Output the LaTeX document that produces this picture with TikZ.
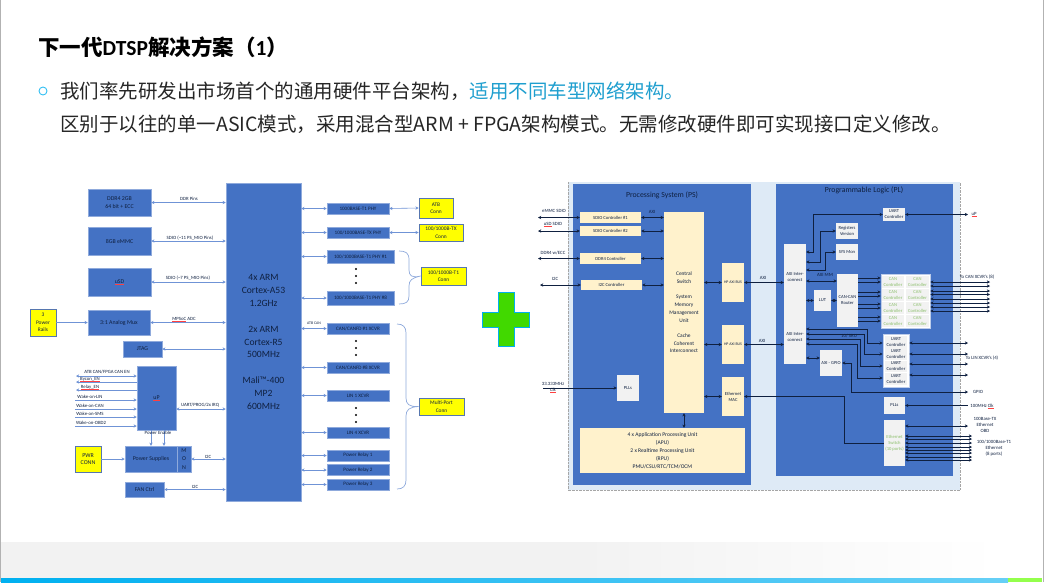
\documentclass[tikz,border=0pt]{standalone}
\usepackage{fontspec}
\setmainfont{Carlito}
\newfontfamily\cjk{Noto Sans CJK SC}
\usetikzlibrary{arrows.meta}
\definecolor{boxblue}{HTML}{4472C4}
\definecolor{edgeblue}{HTML}{8FAADC}
\definecolor{inkblue}{HTML}{0F2040}
\definecolor{linkblue}{HTML}{6F93D6}
\definecolor{signyellow}{HTML}{FFFF00}
\definecolor{cream}{HTML}{FFF2CC}
\definecolor{softgrey}{HTML}{F2F2F2}
\definecolor{boardblue}{HTML}{DEEAF6}
\definecolor{cangreen}{HTML}{8CBF6C}
\definecolor{skyblue}{HTML}{00B0F0}
\definecolor{teal}{HTML}{1F9FCF}
\newcommand{\spellmark}[1]{\sbox0{#1}\usebox0\llap{\textcolor{red!75!white}{\rule[-.8pt]{\wd0}{.25pt}}}}
\tikzset{
  bluebox/.style={draw=edgeblue,line width=.5pt,fill=boxblue,text=inkblue,inner sep=0pt,align=center,font=\fontsize{5.9}{7.4}\selectfont},
  phybox/.style={bluebox,font=\fontsize{5.1}{6}\selectfont},
  connbox/.style={draw=boxblue!70!gray,line width=.7pt,fill=signyellow,text=inkblue,inner sep=0pt,align=center,font=\fontsize{5.4}{7.4}\selectfont},
  psbox/.style={fill=cream,text=inkblue,inner sep=0pt,align=center,font=\fontsize{4.6}{6}\selectfont},
  plbox/.style={fill=softgrey,text=inkblue,inner sep=0pt,align=center,font=\fontsize{4.6}{6}\selectfont},
  cellbox/.style={plbox,text=cangreen},
  lbl/.style={text=inkblue,inner sep=0pt,align=center,font=\fontsize{4.8}{6}\selectfont},
  linkarrow/.style={<->,draw=linkblue,line width=.6pt},
  linkto/.style={->,draw=linkblue,line width=.6pt},
  linkfrom/.style={<-,draw=linkblue,line width=.6pt},
  busarrow/.style={<->,draw=inkblue,line width=.55pt},
  busto/.style={->,draw=inkblue,line width=.55pt},
  busfrom/.style={<-,draw=inkblue,line width=.55pt},
  morebox/.style={circle,fill=black,inner sep=0pt,minimum size=2.4pt},
  bracket/.style={draw=edgeblue,line width=.7pt},
}
\begin{document}
\begin{tikzpicture}[x=1pt,y=-1pt,>={Stealth[length=3.2pt,width=3.2pt]}]
  \useasboundingbox (0,0) rectangle (1044,582);
  % slide frame
  \fill[white] (0,0) rectangle (1044,582);
  \fill[softgrey] (1,542) rectangle (580,578);
  \shade[left color=softgrey,right color=white] (580,542) rectangle (1000,578);
  \shade[left color=skyblue,right color=skyblue!60!white] (1,578) rectangle (1008,582);
  \fill[green!60!yellow!70!white] (1008,578) rectangle (1042,582);
  \draw[gray!60,line width=1pt] (.5,0) -- (.5,582);
  \draw[gray!60,line width=1pt] (1043.5,0) -- (1043.5,582);
  % heading
  \node[anchor=west,inner sep=0pt,font=\fontsize{21.5}{24}\selectfont\bfseries] (title) at (38,47.5) {{\cjk 下一代}DTSP{\cjk 解决方案（}1{\cjk ）}};
  \node[circle,draw=skyblue!80!white,line width=.9pt,minimum size=8pt,inner sep=0pt] (bullet) at (43,91) {};
  \node[anchor=west,inner sep=0pt,text=black!85,font=\fontsize{19.5}{24}\selectfont\cjk] (lineone) at (60,91) {我们率先研发出市场首个的通用硬件平台架构，\textcolor{teal}{适用不同车型网络架构。}};
  \node[anchor=west,inner sep=0pt,text=black!85,font=\fontsize{19.5}{24}\selectfont\cjk] (linetwo) at (60,124) {区别于以往的单一ASIC模式，采用混合型ARM + FPGA架构模式。无需修改硬件即可实现接口定义修改。};

  % board on the left
  \node[bluebox,minimum width=75pt,minimum height=318pt,font=\fontsize{9.6}{12.9}\selectfont] (cpu) at (263.5,342) {4x ARM\\Cortex-A53\\1.2GHz\\[12.9pt]2x ARM\\Cortex-R5\\500MHz\\[12.9pt]Mali™-400\\MP2\\600MHz};
  \node[bluebox,minimum width=63pt,minimum height=27pt] (ddr) at (119.5,202.5) {DDR4 2GB\\64 bit + ECC};
  \node[bluebox,minimum width=63pt,minimum height=28pt] (emmc) at (119.5,241) {8GB eMMC};
  \node[bluebox,minimum width=63pt,minimum height=28pt] (usd) at (119.5,282) {\spellmark{uSD}};
  \node[bluebox,minimum width=62pt,minimum height=25pt] (mux) at (119,322.5) {3:1 Analog Mux};
  \node[bluebox,minimum width=39pt,minimum height=16pt] (jtag) at (142.5,349) {JTAG};
  \node[bluebox,minimum width=39pt,minimum height=64pt] (up) at (156.5,398) {\spellmark{uP}};
  \node[bluebox,minimum width=52pt,minimum height=26pt] (psu) at (151,459) {Power Supplies};
  \node[bluebox,minimum width=14pt,minimum height=26pt,font=\fontsize{5.9}{8.4}\selectfont] (mon) at (184,459) {M\\O\\N};
  \node[bluebox,minimum width=39pt,minimum height=15pt] (fan) at (144.5,489.5) {FAN Ctrl};
  \node[connbox,minimum width=26pt,minimum height=27pt] (rails) at (43,322.5) {3\\Power\\Rails};
  \node[connbox,minimum width=26pt,minimum height=26pt,font=\fontsize{5.9}{7.4}\selectfont] (pwr) at (88,459) {PWR\\CONN};
  \node[phybox,minimum width=62pt,minimum height=11pt] (phya) at (358,208.5) {1000BASE-T1 PHY};
  \node[phybox,minimum width=62pt,minimum height=11pt] (phytx) at (358,232.5) {100/1000BASE-TX PHY};
  \node[phybox,minimum width=67pt,minimum height=13pt] (phyone) at (360.5,256.5) {100/1000BASE-T1 PHY \#1};
  \node[phybox,minimum width=67pt,minimum height=14pt] (phyeight) at (360.5,298) {100/1000BASE-T1 PHY \#8};
  \node[phybox,minimum width=62pt,minimum height=11pt] (canone) at (358,328.5) {CAN/CANFD \#1 XCVR};
  \node[phybox,minimum width=62pt,minimum height=11pt] (caneight) at (358,367.5) {CAN/CANFD \#8 XCVR};
  \node[phybox,minimum width=62pt,minimum height=11pt] (linone) at (358,395.5) {LIN 1 XCVR};
  \node[phybox,minimum width=62pt,minimum height=11pt] (linfour) at (358,432.5) {LIN 4 XCVR};
  \node[phybox,minimum width=62pt,minimum height=11pt] (relayone) at (358,455.5) {Power Relay 1};
  \node[phybox,minimum width=62pt,minimum height=11pt] (relaytwo) at (358,470) {Power Relay 2};
  \node[phybox,minimum width=62pt,minimum height=11pt] (relaythree) at (358,484.5) {Power Relay 3};
  \node[connbox,minimum width=34pt,minimum height=20pt] (atbconn) at (436,208) {ATB\\Conn};
  \node[connbox,minimum width=44pt,minimum height=17pt] (txconn) at (441,232.5) {100/1000B-TX\\Conn};
  \node[connbox,minimum width=45pt,minimum height=18pt] (tconn) at (443.5,276) {100/1000B-T1\\Conn};
  \node[connbox,minimum width=45pt,minimum height=17pt] (mpconn) at (441.5,406.5) {Multi-Port\\Conn};
  \node[morebox] (dota) at (356,269) {};
  \node[morebox] (dotb) at (356,276) {};
  \node[morebox] (dotc) at (356,283) {};
  \node[morebox] (dotd) at (356,341) {};
  \node[morebox] (dote) at (356,348) {};
  \node[morebox] (dotf) at (356,355) {};
  \node[morebox] (dotg) at (356,408) {};
  \node[morebox] (doth) at (356,415) {};
  \node[morebox] (doti) at (356,422) {};

  \coordinate (atben) at (76,376);
  \coordinate (bycon) at (76,382);
  \coordinate (relayen) at (76,390);
  \coordinate (wakelin) at (75,400);
  \coordinate (wakecan) at (75,409);
  \coordinate (wakesms) at (75,417);
  \coordinate (wakeobd) at (75,426);
  \draw[linkarrow] (ddr.east) -- (ddr.east -| cpu.west);
  \draw[linkarrow] (emmc.east) -- (emmc.east -| cpu.west);
  \draw[linkarrow] (usd.east) -- (usd.east -| cpu.west);
  \draw[linkarrow] (mux.east) -- (mux.east -| cpu.west);
  \draw[linkarrow] (jtag.east) -- (jtag.east -| cpu.west);
  \draw[linkto] (rails.east) -- (mux.west);
  \draw[linkarrow] (atben) -- (atben -| up.west);
  \draw[linkfrom] (bycon) -- (bycon -| up.west);
  \draw[linkfrom] (relayen) -- (relayen -| up.west);
  \draw[linkto] (wakelin) -- (wakelin -| up.west);
  \draw[linkto] (wakecan) -- (wakecan -| up.west);
  \draw[linkto] (wakesms) -- (wakesms -| up.west);
  \draw[linkto] (wakeobd) -- (wakeobd -| up.west);
  \draw[linkarrow] (up.east |- wakecan) -- (cpu.west |- wakecan);
  \draw[linkto] (up.south -| 151,0) -- (psu.north -| 151,0);
  \draw[linkto] (up.south -| 164,0) -- (psu.north -| 164,0);
  \draw[linkto] (pwr.east) -- (psu.west);
  \draw[linkarrow] (mon.east) -- (mon.east -| cpu.west);
  \draw[linkarrow] (fan.east) -- (fan.east -| cpu.west);
  \draw[linkarrow] (cpu.east |- phya.west) -- (phya.west);
  \draw[linkarrow] (cpu.east |- phytx.west) -- (phytx.west);
  \draw[linkarrow] (cpu.east |- phyone.west) -- (phyone.west);
  \draw[linkarrow] (cpu.east |- phyeight.west) -- (phyeight.west);
  \draw[linkarrow] (cpu.east |- canone.west) -- (canone.west);
  \draw[linkarrow] (cpu.east |- caneight.west) -- (caneight.west);
  \draw[linkarrow] (cpu.east |- linone.west) -- (linone.west);
  \draw[linkarrow] (cpu.east |- linfour.west) -- (linfour.west);
  \draw[linkarrow] (cpu.east |- relayone.west) -- (relayone.west);
  \draw[linkarrow] (cpu.east |- relaytwo.west) -- (relaytwo.west);
  \draw[linkarrow] (cpu.east |- relaythree.west) -- (relaythree.west);
  \draw[linkarrow] (phya.east) -- (atbconn.west);
  \draw[linkarrow] (phytx.east) -- (txconn.west);
  \draw[bracket] (399,251) .. controls (406,251) and (409,253) .. (409,260) -- (409,270) .. controls (409,276) and (412,278) .. (tconn.west) .. controls (412,278) and (409,280) .. (409,286) -- (409,296) .. controls (409,302) and (406,304) .. (399,304);
  \draw[bracket] (397,324) .. controls (403,324) and (406,327) .. (406,333) -- (406,398) .. controls (406,404) and (409,407) .. (mpconn.west) .. controls (409,407) and (406,410) .. (406,416) -- (406,480) .. controls (406,486) and (403,489) .. (397,489);
  \node[lbl] (lddr) at (189,199) {DDR Pins};
  \node[lbl] (lemmc) at (190,238) {SDIO (\textasciitilde 11 PS\_MIO Pins)};
  \node[lbl] (lusd) at (188,278) {SDIO (\textasciitilde 7 PS\_MIO Pins)};
  \node[lbl] (ladc) at (184,319) {\spellmark{MPSoC} ADC};
  \node[lbl] (latb) at (107,372) {ATB CAN/FPGA CAN EN};
  \node[lbl] (lbycon) at (90,379.5) {\spellmark{Bycon\_EN}};
  \node[lbl] (lrelay) at (90,387) {\spellmark{Relay\_EN}};
  \node[lbl] (llin) at (90,397) {Wake-on-LIN};
  \node[lbl] (lcan) at (90,406) {Wake-on-CAN};
  \node[lbl] (lsms) at (90,414) {Wake-on-SMS};
  \node[lbl] (lobd) at (91,423) {Wake-on-OBD2};
  \node[lbl] (lirq) at (200,405) {UART/PROG/2x IRQ};
  \node[lbl] (lenable) at (158,432.5) {Power Enable};
  \node[lbl] (liica) at (208,457) {I2C};
  \node[lbl] (liicb) at (195,487) {I2C};
  \node[lbl,font=\fontsize{3.9}{5}\selectfont] (latbcan) at (314,323) {ATB CAN};

  % big plus in the middle
  \draw[draw=skyblue,line width=1pt,fill=green!70!yellow!85!black] (498,292) -- (514,292) -- (514,312) -- (529,312) -- (529,327) -- (514,327) -- (514,346) -- (498,346) -- (498,327) -- (482,327) -- (482,312) -- (498,312) -- cycle;

  % device on the right
  \node[fill=boardblue,minimum width=392pt,minimum height=308pt,inner sep=0pt] (board) at (764,336) {};
  \draw[gray!70,densely dotted] (board.north west) -- (board.south west) -- (board.south east) -- (board.north east);
  \node[fill=boxblue,minimum width=178pt,minimum height=301pt,inner sep=0pt] (ps) at (662,334.5) {};
  \node[fill=boxblue,minimum width=177pt,minimum height=292pt,inner sep=0pt] (pl) at (864.5,330) {};
  \node[lbl,font=\fontsize{7.8}{9}\selectfont] (pstitle) at (662,195) {Processing System (PS)};
  \node[lbl,font=\fontsize{7.8}{9}\selectfont] (pltitle) at (864,190) {Programmable Logic (PL)};

  \node[psbox,minimum width=61pt,minimum height=11pt] (sdioa) at (610.5,217.5) {SDIO Controller \#1};
  \node[psbox,minimum width=61pt,minimum height=10pt] (sdiob) at (610.5,231) {SDIO Controller \#2};
  \node[psbox,minimum width=61pt,minimum height=11pt] (ddrc) at (610.5,258.5) {DDR4 Controller};
  \node[psbox,minimum width=61pt,minimum height=10pt] (iicc) at (611.5,285) {I2C Controller};
  \node[psbox,minimum width=40pt,minimum height=201pt,font=\fontsize{5.4}{7.7}\selectfont] (central) at (684,312.5) {Central\\Switch\\[7.7pt]System\\Memory\\Management\\Unit\\[7.7pt]Cache\\Coherent\\Interconnect};
  \node[psbox,minimum width=22pt,minimum height=39pt,font=\fontsize{3.9}{5}\selectfont] (hpa) at (733,282.5) {HP AXI BUS};
  \node[psbox,minimum width=22pt,minimum height=39pt,font=\fontsize{3.9}{5}\selectfont] (hpb) at (733,344.5) {HP AXI BUS};
  \node[psbox,minimum width=22pt,minimum height=39pt] (mac) at (733,396.5) {Ethernet\\MAC};
  \node[plbox,minimum width=22pt,minimum height=26pt] (plls) at (628,388) {PLLs};
  \node[psbox,minimum width=165pt,minimum height=45pt,font=\fontsize{5.6}{7.9}\selectfont] (apu) at (662.5,450.5) {4 x Application Processing Unit\\(APU)\\2 x Realtime Processing Unit\\(RPU)\\PMU/CSU/RTC/TCM/OCM};

  \node[plbox,minimum width=22pt,minimum height=67pt] (axia) at (795,277.5) {AXI Inter-\\connect};
  \node[plbox,minimum width=22pt,minimum height=53pt] (axib) at (795,337.5) {AXI Inter-\\connect};
  \node[plbox,minimum width=22pt,minimum height=13pt] (uartpl) at (894,214.5) {UART\\Controller};
  \node[plbox,minimum width=22pt,minimum height=16pt] (regs) at (847,231) {Registers\\Version};
  \node[plbox,minimum width=22pt,minimum height=16pt] (sysmon) at (847,252) {SYS Mon};
  \node[plbox,minimum width=21pt,minimum height=53pt] (router) at (847.5,300.5) {CAN-CAN\\Router};
  \node[plbox,minimum width=17pt,minimum height=21pt] (lut) at (822.5,300.5) {LUT};
  \node[draw=edgeblue!60!white,line width=.6pt,fill=white,minimum width=49pt,minimum height=54pt,inner sep=0pt] (canblock) at (905.5,301) {};
  \node[cellbox,minimum width=22pt,minimum height=12pt] (canaa) at (893,282) {CAN\\Controller};
  \node[cellbox,minimum width=23pt,minimum height=12pt] (canab) at (917.5,282) {CAN\\Controller};
  \node[cellbox,minimum width=22pt,minimum height=12pt] (canba) at (893,295) {CAN\\Controller};
  \node[cellbox,minimum width=23pt,minimum height=12pt] (canbb) at (917.5,295) {CAN\\Controller};
  \node[cellbox,minimum width=22pt,minimum height=12pt] (canca) at (893,308) {CAN\\Controller};
  \node[cellbox,minimum width=23pt,minimum height=12pt] (cancb) at (917.5,308) {CAN\\Controller};
  \node[cellbox,minimum width=22pt,minimum height=12pt] (canda) at (893,321) {CAN\\Controller};
  \node[cellbox,minimum width=23pt,minimum height=12pt] (candb) at (917.5,321) {CAN\\Controller};
  \node[draw=edgeblue!60!white,line width=.6pt,fill=white,minimum width=26pt,minimum height=53pt,inner sep=0pt] (uartblock) at (896,360.5) {};
  \node[plbox,minimum width=22pt,minimum height=11.4pt] (uarta) at (896,342) {UART\\Controller};
  \node[plbox,minimum width=22pt,minimum height=11.4pt] (uartb) at (896,354) {UART\\Controller};
  \node[plbox,minimum width=22pt,minimum height=11.4pt] (uartc) at (896,366.5) {UART\\Controller};
  \node[plbox,minimum width=22pt,minimum height=11.4pt] (uartd) at (896,379) {UART\\Controller};
  \node[plbox,minimum width=22pt,minimum height=26pt] (gpio) at (831,363) {AXI - GPIO};
  \node[plbox,minimum width=21pt,minimum height=17pt] (pllpl) at (894.5,405.5) {PLLs};
  \node[plbox,minimum width=21pt,minimum height=46pt,text=cangreen] (ethsw) at (894.5,443) {Ethernet\\Switch\\(10 ports)};

  \coordinate (emmcpin) at (538,217.5);
  \coordinate (usdpin) at (538,231);
  \coordinate (ddrpin) at (538,258.5);
  \coordinate (iicpin) at (540,285);
  \coordinate (clkpin) at (543,388);
  \coordinate (uppin) at (968,214.5);
  \coordinate (canpin) at (990,297);
  \coordinate (linpin) at (968,360);
  \coordinate (gpiopin) at (968,392);
  \coordinate (clkpl) at (968,405.5);
  \coordinate (txpin) at (968,426);
  \coordinate (tpin) at (972,448);
  \draw[busarrow] (emmcpin) -- (sdioa.west);
  \draw[busarrow] (usdpin) -- (sdiob.west);
  \draw[busarrow] (ddrpin) -- (ddrc.west);
  \draw[busarrow] (iicpin) -- (iicc.west);
  \draw[busto] (clkpin) -- (plls.west);
  \draw[busarrow] (sdioa.east) -- (sdioa.east -| central.west);
  \draw[busarrow] (sdiob.east) -- (sdiob.east -| central.west);
  \draw[busarrow] (ddrc.east) -- (ddrc.east -| central.west);
  \draw[busarrow] (iicc.east) -- (iicc.east -| central.west);
  \draw[busarrow] (central.east |- hpa.west) -- (hpa.west);
  \draw[busarrow] (central.east |- hpb.west) -- (hpb.west);
  \draw[busarrow] (central.east |- mac.west) -- (mac.west);
  \draw[busarrow] (central.south) -- (central.south |- apu.north);
  \draw[busarrow] (hpa.east) -- (hpa.east -| axia.west);
  \draw[busarrow] (hpb.east) -- (hpb.east -| axib.west);
  \draw[busfrom] (mac.east) -- (844,396.5) |- (ethsw.west);
  \draw[busarrow] (axia.east |- 0,252) -- (813,252) |- (uartpl.west);
  \draw[busarrow] (axia.east |- 0,262) -- (820,262) |- (regs.west);
  \draw[busarrow] (axia.east |- 0,270) -- (825,270) |- (sysmon.west);
  \draw[busarrow] (axia.east |- 0,281) -- (router.west |- 0,281);
  \draw[busarrow] (axia.east |- lut.west) -- (lut.west);
  \draw[busarrow] (lut.east) -- (router.west |- lut.east);
  \draw[busto] (router.east |- 0,278) -- (canblock.west |- 0,278);
  \draw[busto] (router.east |- 0,282) -- (canblock.west |- 0,282);
  \draw[busto] (router.east |- 0,292) -- (canblock.west |- 0,292);
  \draw[busto] (router.east |- 0,296) -- (canblock.west |- 0,296);
  \draw[busto] (router.east |- 0,304) -- (canblock.west |- 0,304);
  \draw[busto] (router.east |- 0,308) -- (canblock.west |- 0,308);
  \draw[busto] (router.east |- 0,317) -- (canblock.west |- 0,317);
  \draw[busto] (router.east |- 0,321) -- (canblock.west |- 0,321);
  \draw[busarrow] (canblock.east |- 0,282) -- (canpin |- 0,282);
  \draw[busarrow] (canblock.east |- 0,286) -- (canpin |- 0,286);
  \draw[busarrow] (canblock.east |- 0,291) -- (canpin |- 0,291);
  \draw[busarrow] (canblock.east |- 0,294.5) -- (canpin |- 0,294.5);
  \draw[busarrow] (canblock.east |- 0,299) -- (canpin |- 0,299);
  \draw[busarrow] (canblock.east |- 0,303) -- (canpin |- 0,303);
  \draw[busarrow] (canblock.east |- 0,307) -- (canpin |- 0,307);
  \draw[busarrow] (canblock.east |- 0,311) -- (canpin |- 0,311);
  \draw[busarrow] (uartpl.east) -- (uppin);
  \draw[busarrow] (axib.east |- 0,329) -- (867,329) |- (uartblock.west |- 0,343);
  \draw[busarrow] (axib.east |- 0,334) -- (864,334) |- (uartblock.west |- 0,354);
  \draw[busarrow] (axib.east |- 0,339) -- (860,339) |- (uartblock.west |- 0,366);
  \draw[busarrow] (axib.east |- 0,344) -- (857,344) |- (uartblock.west |- 0,378);
  \draw[busarrow] (uartblock.east |- 0,343) -- (linpin |- 0,343);
  \draw[busarrow] (uartblock.east |- 0,354) -- (linpin |- 0,354);
  \draw[busarrow] (uartblock.east |- 0,364) -- (linpin |- 0,364);
  \draw[busarrow] (uartblock.east |- 0,375) -- (linpin |- 0,375);
  \draw[busarrow] (axib.east |- 0,358) -- (gpio.west |- 0,358);
  \draw[busarrow] (gpio.east) -- (851,363) |- (gpiopin);
  \draw[busfrom] (pllpl.east) -- (clkpl);
  \draw[busarrow] (ethsw.east |- txpin) -- (txpin);
  \draw[busarrow] (ethsw.east |- 0,436) -- (tpin |- 0,436);
  \draw[busarrow] (ethsw.east |- 0,439) -- (tpin |- 0,439);
  \draw[busarrow] (ethsw.east |- 0,443) -- (tpin |- 0,443);
  \draw[busarrow] (ethsw.east |- 0,447) -- (tpin |- 0,447);
  \draw[busarrow] (ethsw.east |- 0,450) -- (tpin |- 0,450);
  \draw[busarrow] (ethsw.east |- 0,453) -- (tpin |- 0,453);
  \draw[busarrow] (ethsw.east |- 0,457) -- (tpin |- 0,457);
  \draw[busarrow] (ethsw.east |- 0,460) -- (tpin |- 0,460);
  \node[lbl] (lemmcpin) at (554,211) {eMMC SDIO};
  \node[lbl] (lusdpin) at (553,224) {\spellmark{uSD} SDIO};
  \node[lbl] (lddrpin) at (553,253) {DDR4 w/ECC};
  \node[lbl] (liicpin) at (555,279) {I2C};
  \node[lbl] (lclkpin) at (553,387.5) {33.333MHz\\\spellmark{Clk}};
  \node[lbl] (laxia) at (652,212) {AXI};
  \node[lbl] (laxib) at (763,278) {AXI};
  \node[lbl] (laxic) at (762,341) {AXI};
  \node[lbl] (laximm) at (825,275) {AXI MM};
  \node[lbl] (lsru) at (849,336) {10/ SRU};
  \node[lbl] (luppin) at (974,214.5) {\spellmark{uP}};
  \node[lbl] (lcanpin) at (977,277) {To CAN XCVR's (8)};
  \node[lbl] (llinpin) at (982,358) {To LIN XCVR's (4)};
  \node[lbl] (lgpiopin) at (978,392) {GPIO};
  \node[lbl] (lclkpl) at (982,406) {100MHz \spellmark{Clk}};
  \node[lbl] (ltxpin) at (985,425) {100Base-TX\\Ethernet\\OBD};
  \node[lbl] (ltpin) at (994,448) {100/1000Base-T1\\Ethernet\\(8 ports)};
\end{tikzpicture}
\end{document}
